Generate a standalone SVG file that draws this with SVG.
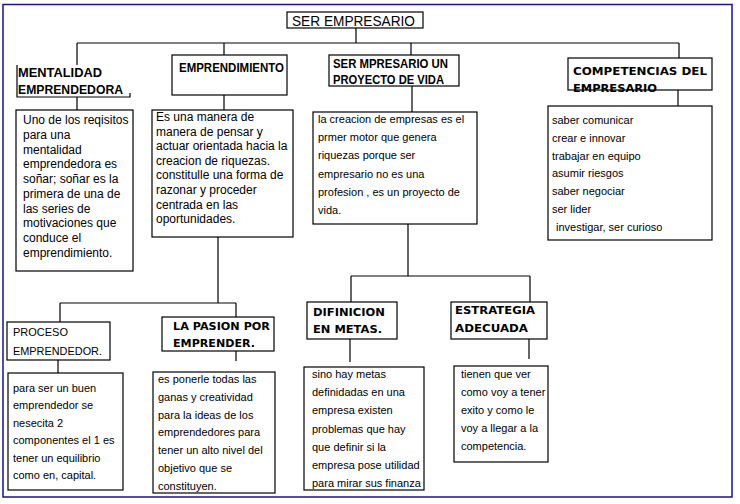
<svg xmlns="http://www.w3.org/2000/svg" width="740" height="504" viewBox="0 0 740 504">
<style>
.box{fill:none;stroke:#000;stroke-width:1.2}
.ln{fill:none;stroke:#000;stroke-width:1.2}
.frame{fill:none;stroke:#1a1090;stroke-width:1.5}
.h1{font-family:"Liberation Sans",Arial,sans-serif;font-size:15px;fill:#000}
.hb{font-family:"Liberation Sans",Arial,sans-serif;font-size:13px;font-weight:bold;fill:#000}
.hw{font-family:"DejaVu Sans",Verdana,sans-serif;font-size:11px;font-weight:bold;fill:#000}
.hr{font-family:"Liberation Sans",Arial,sans-serif;font-size:11px;fill:#000}
.t12{font-family:"Liberation Sans",Arial,sans-serif;font-size:12px;fill:#000}
.t11{font-family:"Liberation Sans",Arial,sans-serif;font-size:11px;fill:#000}
</style>
<rect x="0" y="0" width="740" height="504" fill="#fff"/>
<rect class="frame" x="3" y="4.5" width="729" height="492.5"/>

<g id="connectors">
<path class="ln" d="M356 28V43M77 43H679M77 43V65M224 43V55M411 43V55M679 43V58"/>
<path class="ln" d="M77 97V110M224 95V110M412 86V112M678 90V106"/>
<path class="ln" d="M218 237V303M60 303H236M60 303V322M236 303V317M58 360V373M236 351V361"/>
<path class="ln" d="M408 224V276M351 276H530M351 276V302M530 276V302M350 339V362M529 339V359"/>
</g>

<g id="title">
<rect class="box" x="287" y="12" width="136" height="16"/>
<text class="h1" x="292" y="26" textLength="123" lengthAdjust="spacingAndGlyphs">SER EMPRESARIO</text>
</g>

<g id="mentalidad">
<path class="ln" d="M17 65V97H130V93"/>
<text class="hb" x="18" y="77" textLength="84" lengthAdjust="spacingAndGlyphs">MENTALIDAD</text>
<text class="hb" x="18" y="94" textLength="105" lengthAdjust="spacingAndGlyphs">EMPRENDEDORA</text>
</g>

<g id="mentalidad-texto">
<rect class="box" x="16" y="110" width="117" height="161"/>
<text class="t12" x="23" y="124">Uno de los reqisitos</text>
<text class="t12" x="23" y="138.8">para una</text>
<text class="t12" x="23" y="153.5">mentalidad</text>
<text class="t12" x="23" y="168.3">emprendedora es</text>
<text class="t12" x="23" y="183">soñar; soñar es la</text>
<text class="t12" x="23" y="197.8">primera de una de</text>
<text class="t12" x="23" y="212.5">las series de</text>
<text class="t12" x="23" y="227.3">motivaciones que</text>
<text class="t12" x="23" y="242">conduce el</text>
<text class="t12" x="23" y="256.8">emprendimiento.</text>
</g>

<g id="emprendimiento">
<rect class="box" x="172" y="55" width="115" height="40"/>
<text class="hb" x="179" y="72" font-size="12" textLength="105" lengthAdjust="spacingAndGlyphs">EMPRENDIMIENTO</text>
</g>

<g id="emprendimiento-texto">
<rect class="box" x="152" y="110" width="141" height="127"/>
<text class="t12" x="156" y="121">Es una manera de</text>
<text class="t12" x="156" y="135.6">manera de pensar y</text>
<text class="t12" x="156" y="150.2">actuar orientada hacia la</text>
<text class="t12" x="156" y="164.8">creacion de riquezas.</text>
<text class="t12" x="156" y="179.4">constitulle una forma de</text>
<text class="t12" x="156" y="194">razonar y proceder</text>
<text class="t12" x="156" y="208.6">centrada en las</text>
<text class="t12" x="156" y="223.2">oportunidades.</text>
</g>

<g id="proyecto">
<rect class="box" x="329" y="55" width="130" height="31"/>
<text class="hb" x="333" y="68" font-size="12" textLength="115" lengthAdjust="spacingAndGlyphs">SER MPRESARIO UN</text>
<text class="hb" x="333" y="84" font-size="12" textLength="111" lengthAdjust="spacingAndGlyphs">PROYECTO DE VIDA</text>
</g>

<g id="proyecto-texto">
<rect class="box" x="313" y="112" width="164" height="112"/>
<text class="t11" x="318" y="123">la creacion de empresas es el</text>
<text class="t11" x="318" y="141.2">prmer motor que genera</text>
<text class="t11" x="318" y="159.4">riquezas porque ser</text>
<text class="t11" x="318" y="177.6">empresario no es una</text>
<text class="t11" x="318" y="195.8">profesion , es un proyecto de</text>
<text class="t11" x="318" y="214">vida.</text>
</g>

<g id="competencias">
<rect class="box" x="568" y="58" width="144" height="32"/>
<text class="hw" x="573" y="75" textLength="134" lengthAdjust="spacingAndGlyphs">COMPETENCIAS DEL</text>
<text class="hw" x="573" y="92" textLength="84" lengthAdjust="spacingAndGlyphs">EMPRESARIO</text>
</g>

<g id="competencias-texto">
<rect class="box" x="548" y="106" width="164" height="134"/>
<text class="t11" x="552" y="124">saber comunicar</text>
<text class="t11" x="552" y="141.8">crear e innovar</text>
<text class="t11" x="552" y="159.6">trabajar en equipo</text>
<text class="t11" x="552" y="177.4">asumir riesgos</text>
<text class="t11" x="552" y="195.2">saber negociar</text>
<text class="t11" x="552" y="213">ser lider</text>
<text class="t11" x="556" y="230.8">investigar, ser curioso</text>
</g>

<g id="proceso">
<rect class="box" x="7" y="322" width="103" height="38"/>
<text class="hr" x="13" y="336">PROCESO</text>
<text class="hr" x="13" y="355" textLength="89" lengthAdjust="spacingAndGlyphs">EMPRENDEDOR.</text>
</g>

<g id="proceso-texto">
<rect class="box" x="8" y="373" width="115" height="117"/>
<text class="t11" x="13" y="392">para ser un buen</text>
<text class="t11" x="13" y="409.4">emprendedor se</text>
<text class="t11" x="13" y="426.8">nesecita 2</text>
<text class="t11" x="13" y="444.2">componentes el 1 es</text>
<text class="t11" x="13" y="461.6">tener un equilibrio</text>
<text class="t11" x="13" y="479">como en, capital.</text>
</g>

<g id="pasion">
<rect class="box" x="162" y="317" width="112" height="34"/>
<text class="hw" x="173" y="330" textLength="97" lengthAdjust="spacingAndGlyphs">LA PASION POR</text>
<text class="hw" x="173" y="347" textLength="82" lengthAdjust="spacingAndGlyphs">EMPRENDER.</text>
</g>

<g id="pasion-texto">
<rect class="box" x="153" y="372" width="122" height="121"/>
<text class="t11" x="158" y="383">es ponerle todas las</text>
<text class="t11" x="158" y="400.8">ganas y creatividad</text>
<text class="t11" x="158" y="418.6">para la ideas de los</text>
<text class="t11" x="158" y="436.4">emprendedores para</text>
<text class="t11" x="158" y="454.2">tener un alto nivel del</text>
<text class="t11" x="158" y="472">objetivo que se</text>
<text class="t11" x="158" y="489.8">constituyen.</text>
</g>

<g id="metas">
<rect class="box" x="307" y="302" width="90" height="37"/>
<text class="hw" x="313" y="316" textLength="72" lengthAdjust="spacingAndGlyphs">DIFINICION</text>
<text class="hw" x="313" y="333" textLength="69" lengthAdjust="spacingAndGlyphs">EN METAS.</text>
</g>

<g id="metas-texto">
<rect class="box" x="304" y="367" width="120" height="123"/>
<text class="t11" x="312" y="378">sino hay metas</text>
<text class="t11" x="312" y="396.2">definidadas en una</text>
<text class="t11" x="312" y="414.4">empresa existen</text>
<text class="t11" x="312" y="432.6">problemas que hay</text>
<text class="t11" x="312" y="450.8">que definir si la</text>
<text class="t11" x="312" y="469">empresa pose utilidad</text>
<text class="t11" x="312" y="487.2">para mirar sus finanza</text>
</g>

<g id="estrategia">
<rect class="box" x="451" y="302" width="96" height="37"/>
<text class="hw" x="455" y="314" textLength="80" lengthAdjust="spacingAndGlyphs">ESTRATEGIA</text>
<text class="hw" x="455" y="332" textLength="73" lengthAdjust="spacingAndGlyphs">ADECUADA</text>
</g>

<g id="estrategia-texto">
<rect class="box" x="454" y="366" width="94" height="96"/>
<text class="t11" x="461" y="378">tienen que ver</text>
<text class="t11" x="461" y="396">como voy a tener</text>
<text class="t11" x="461" y="414">exito y como le</text>
<text class="t11" x="461" y="432">voy a llegar a la</text>
<text class="t11" x="461" y="450">competencia.</text>
</g>
</svg>
